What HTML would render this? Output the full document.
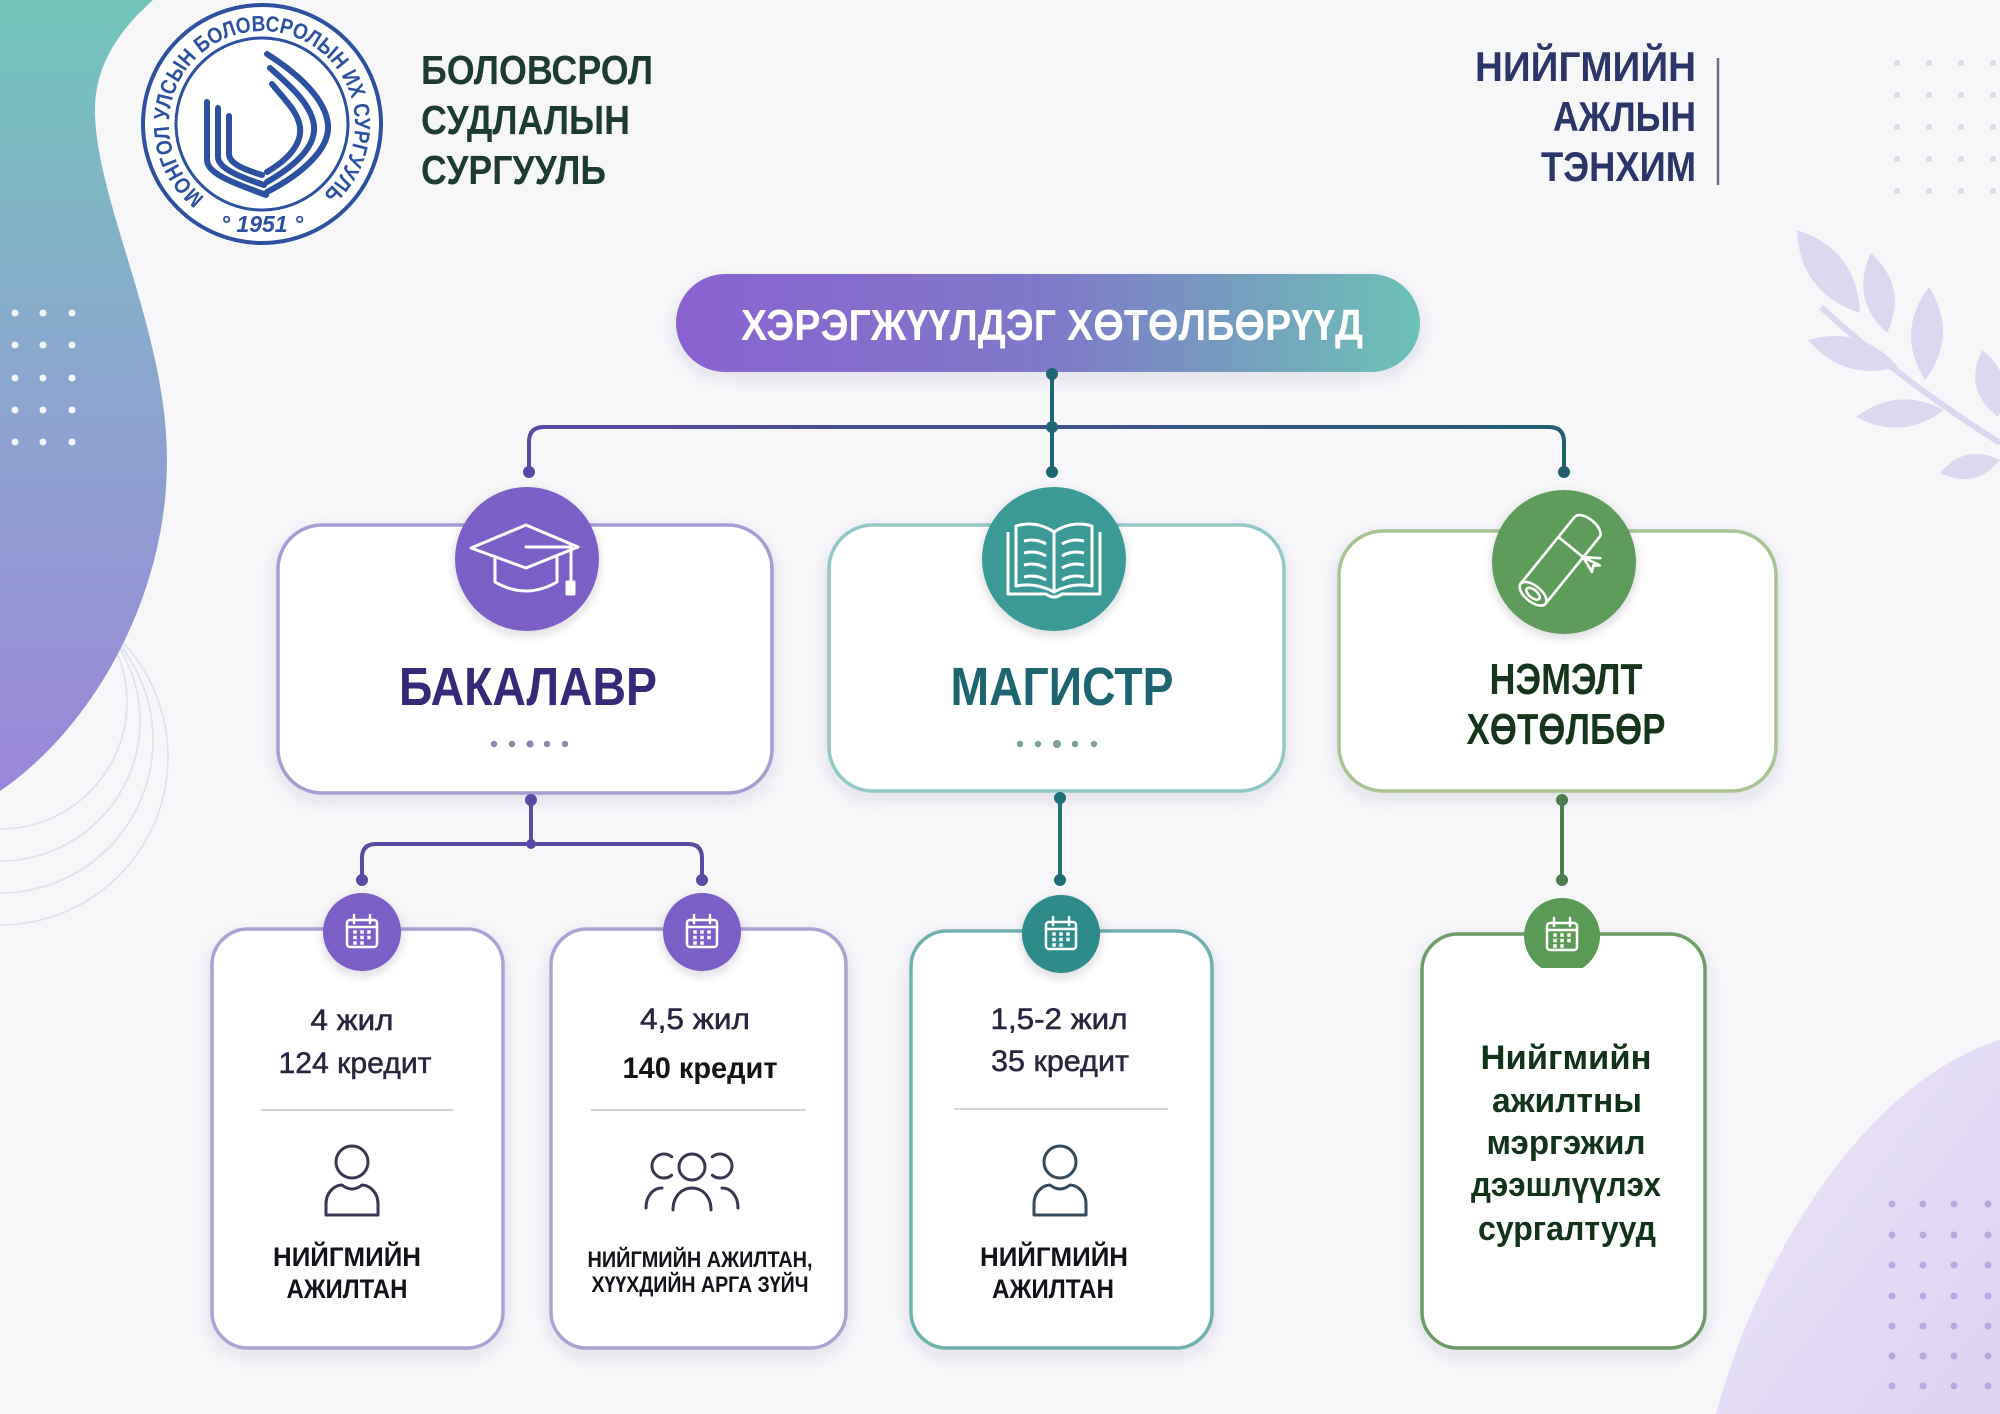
<!DOCTYPE html>
<html><head><meta charset="utf-8">
<style>
html,body{margin:0;padding:0;width:2000px;height:1414px;overflow:hidden;background:#f7f7fa}
svg{display:block}
text{font-family:"Liberation Sans","DejaVu Sans",sans-serif}
</style></head><body>
<svg width="2000" height="1414" viewBox="0 0 2000 1414" xmlns="http://www.w3.org/2000/svg">
<defs>
 <linearGradient id="blob" x1="0" y1="0" x2="0" y2="1">
  <stop offset="0" stop-color="#72c5ba"/>
  <stop offset="0.45" stop-color="#8aa8cd"/>
  <stop offset="1" stop-color="#9b86d9"/>
 </linearGradient>
 <linearGradient id="pill" x1="0" y1="0" x2="1" y2="0">
  <stop offset="0" stop-color="#8a62d0"/>
  <stop offset="0.5" stop-color="#7f79c9"/>
  <stop offset="1" stop-color="#6cc1b5"/>
 </linearGradient>
 <linearGradient id="hline" x1="529" y1="0" x2="1564" y2="0" gradientUnits="userSpaceOnUse">
  <stop offset="0" stop-color="#5b47a6"/>
  <stop offset="1" stop-color="#235f6e"/>
 </linearGradient>
 <linearGradient id="br" x1="0" y1="0" x2="1" y2="1">
  <stop offset="0" stop-color="#ece7f9"/>
  <stop offset="1" stop-color="#dcd2f2"/>
 </linearGradient>
 <filter id="sh" x="-20%" y="-20%" width="140%" height="140%">
  <feDropShadow dx="0" dy="6" stdDeviation="8" flood-color="#3a3560" flood-opacity="0.12"/>
 </filter>
 <filter id="csh" x="-30%" y="-30%" width="160%" height="160%">
  <feDropShadow dx="0" dy="4" stdDeviation="5" flood-color="#2a2540" flood-opacity="0.18"/>
 </filter>
 <path id="logoarc" d="M204.7,197.3 A93,93 0 1,1 319.3,197.3"/>
 <clipPath id="c4clip"><rect x="1500" y="880" width="130" height="88"/></clipPath>
 <g id="cal">
  <g stroke="#fff" stroke-width="2.5" fill="none" stroke-linecap="round">
   <rect x="-15" y="-12" width="30" height="27" rx="3"/>
   <line x1="-15" y1="-5" x2="15" y2="-5"/>
   <line x1="-8" y1="-17" x2="-8" y2="-9"/>
   <line x1="8" y1="-17" x2="8" y2="-9"/>
  </g>
  <g fill="#fff">
   <rect x="-8.75" y="-1.75" width="3.5" height="3.5"/><rect x="-1.75" y="-1.75" width="3.5" height="3.5"/><rect x="5.25" y="-1.75" width="3.5" height="3.5"/>
   <rect x="-8.75" y="3.75" width="3.5" height="3.5"/><rect x="-1.75" y="3.75" width="3.5" height="3.5"/><rect x="5.25" y="3.75" width="3.5" height="3.5"/>
   <rect x="-8.75" y="9.25" width="3.5" height="3.5"/><rect x="-1.75" y="9.25" width="3.5" height="3.5"/>
  </g>
 </g>
 <g id="person" fill="none" stroke-width="3" stroke-linejoin="round">
  <circle cx="0" cy="0" r="16"/>
  <path d="M-26,53 L26,53 L26,42 C26,29 16,23 10,23 Q0,31 -10,23 C-16,23 -26,29 -26,42 Z"/>
 </g>
</defs>

<rect x="0" y="0" width="2000" height="1414" fill="#f7f7fa"/>

<!-- faint arcs lower-left -->
<g fill="none" stroke="#e2e2ea" stroke-width="1.8">
 <circle cx="0" cy="702" r="127"/>
 <circle cx="0" cy="721" r="140"/>
 <circle cx="0" cy="740" r="153"/>
 <circle cx="0" cy="757" r="168"/>
</g>

<!-- left blob -->
<path d="M0,0 L153,0 C125,25 95,60 95,110 C95,200 167,330 167,460 C167,600 90,730 0,791 Z" fill="url(#blob)"/>
<g fill="#ffffff" opacity="0.9">
 <circle cx="15" cy="313" r="3.5"/><circle cx="43" cy="313" r="3.5"/><circle cx="72" cy="313" r="3.5"/>
 <circle cx="15" cy="345" r="3.5"/><circle cx="43" cy="345" r="3.5"/><circle cx="72" cy="345" r="3.5"/>
 <circle cx="15" cy="378" r="3.5"/><circle cx="43" cy="378" r="3.5"/><circle cx="72" cy="378" r="3.5"/>
 <circle cx="15" cy="410" r="3.5"/><circle cx="43" cy="410" r="3.5"/><circle cx="72" cy="410" r="3.5"/>
 <circle cx="15" cy="442" r="3.5"/><circle cx="43" cy="442" r="3.5"/><circle cx="72" cy="442" r="3.5"/>
</g>

<!-- bottom right blob -->
<path d="M1716,1414 C1760,1250 1870,1080 2000,1040 L2000,1414 Z" fill="url(#br)"/>
<g fill="#b9a8e0">
 <circle cx="1892" cy="1204" r="3.5"/><circle cx="1923" cy="1204" r="3.5"/><circle cx="1954" cy="1204" r="3.5"/><circle cx="1988" cy="1204" r="3.5"/>
 <circle cx="1892" cy="1235" r="3.5"/><circle cx="1923" cy="1235" r="3.5"/><circle cx="1954" cy="1235" r="3.5"/><circle cx="1988" cy="1235" r="3.5"/>
 <circle cx="1892" cy="1265" r="3.5"/><circle cx="1923" cy="1265" r="3.5"/><circle cx="1954" cy="1265" r="3.5"/><circle cx="1988" cy="1265" r="3.5"/>
 <circle cx="1892" cy="1296" r="3.5"/><circle cx="1923" cy="1296" r="3.5"/><circle cx="1954" cy="1296" r="3.5"/><circle cx="1988" cy="1296" r="3.5"/>
 <circle cx="1892" cy="1326" r="3.5"/><circle cx="1923" cy="1326" r="3.5"/><circle cx="1954" cy="1326" r="3.5"/><circle cx="1988" cy="1326" r="3.5"/>
 <circle cx="1892" cy="1356" r="3.5"/><circle cx="1923" cy="1356" r="3.5"/><circle cx="1954" cy="1356" r="3.5"/><circle cx="1988" cy="1356" r="3.5"/>
 <circle cx="1892" cy="1386" r="3.5"/><circle cx="1923" cy="1386" r="3.5"/><circle cx="1954" cy="1386" r="3.5"/><circle cx="1988" cy="1386" r="3.5"/>
</g>

<!-- top right dots -->
<g fill="#dcdce6">
 <circle cx="1897" cy="63" r="3"/><circle cx="1929" cy="63" r="3"/><circle cx="1961" cy="63" r="3"/><circle cx="1993" cy="63" r="3"/>
 <circle cx="1897" cy="95" r="3"/><circle cx="1929" cy="95" r="3"/><circle cx="1961" cy="95" r="3"/><circle cx="1993" cy="95" r="3"/>
 <circle cx="1897" cy="127" r="3"/><circle cx="1929" cy="127" r="3"/><circle cx="1961" cy="127" r="3"/><circle cx="1993" cy="127" r="3"/>
 <circle cx="1897" cy="159" r="3"/><circle cx="1929" cy="159" r="3"/><circle cx="1961" cy="159" r="3"/><circle cx="1993" cy="159" r="3"/>
 <circle cx="1897" cy="191" r="3"/><circle cx="1929" cy="191" r="3"/><circle cx="1961" cy="191" r="3"/><circle cx="1993" cy="191" r="3"/>
</g>

<!-- leaf branch -->
<g fill="#dcd8ef">
 <path d="M1821,307 Q1900,380 2000,443" fill="none" stroke="#dcd8ef" stroke-width="6"/>
 <path d="M1797,230 Q1799.8,293.3 1860,313 Q1857.2,249.7 1797,230 Z"/>
 <path d="M1871,253 Q1849.6,298.9 1887,333 Q1908.4,287.1 1871,253 Z"/>
 <path d="M1929,287 Q1895,332 1925,380 Q1959,335 1929,287 Z"/>
 <path d="M1808,340 Q1844.4,382.2 1898,367 Q1861.6,324.8 1808,340 Z"/>
 <path d="M1856,417 Q1902.2,441.4 1944,410 Q1897.8,385.6 1856,417 Z"/>
 <path d="M1982,350 Q1962.8,390 1998,417 Q2017,377 1982,350 Z"/>
 <path d="M1940,473 Q1975,490 2000,460 Q1965,443 1940,473 Z"/>
</g>

<!-- logo -->
<g>
 <circle cx="262" cy="124" r="119" fill="#ffffff" stroke="#2d50a0" stroke-width="4"/>
 <circle cx="262" cy="124" r="86" fill="none" stroke="#2d50a0" stroke-width="3"/>
 <text font-size="22" font-weight="bold" fill="#2d50a0"><textPath href="#logoarc" textLength="455" lengthAdjust="spacingAndGlyphs">МОНГОЛ УЛСЫН БОЛОВСРОЛЫН ИХ СУРГУУЛЬ</textPath></text>
 <text x="262" y="232" font-size="23" font-weight="bold" font-style="italic" fill="#2d50a0" text-anchor="middle">° 1951 °</text>
 <g fill="none" stroke="#2d50a0" stroke-width="6" stroke-linecap="round">
  <path d="M267,192 C300,175 330,150 328,125 C326,100 300,75 267,54"/>
  <path d="M267,182 C293,167 316,148 314,126 C312,106 293,88 270,68"/>
  <path d="M267,172 C287,160 302,145 300,127 C298,112 285,100 272,84"/>
  <path d="M207,102 L207,160 C207,175 240,185 266,195"/>
  <path d="M218,108 L218,157 C218,169 243,178 264,185"/>
  <path d="M229,116 L229,154 C229,164 246,170 262,175"/>
 </g>
</g>

<!-- left title -->
<g font-weight="bold" font-size="41" fill="#1e3b2f">
 <text x="421" y="84" textLength="232" lengthAdjust="spacingAndGlyphs">БОЛОВСРОЛ</text>
 <text x="421" y="134" textLength="209" lengthAdjust="spacingAndGlyphs">СУДЛАЛЫН</text>
 <text x="421" y="184" textLength="185" lengthAdjust="spacingAndGlyphs">СУРГУУЛЬ</text>
</g>

<!-- right title -->
<g font-weight="bold" font-size="42" fill="#2c3568" text-anchor="end">
 <text x="1696" y="81" textLength="221" lengthAdjust="spacingAndGlyphs">НИЙГМИЙН</text>
 <text x="1696" y="131" textLength="143" lengthAdjust="spacingAndGlyphs">АЖЛЫН</text>
 <text x="1696" y="181" textLength="155" lengthAdjust="spacingAndGlyphs">ТЭНХИМ</text>
</g>
<line x1="1718" y1="58" x2="1718" y2="185" stroke="#6a6e8a" stroke-width="2.5"/>

<!-- pill -->
<rect x="676" y="274" width="744" height="98" rx="49" fill="url(#pill)" filter="url(#sh)"/>
<text x="1052" y="340" text-anchor="middle" font-size="44" font-weight="bold" fill="#ffffff" textLength="622" lengthAdjust="spacingAndGlyphs">ХЭРЭГЖҮҮЛДЭГ ХӨТӨЛБӨРҮҮД</text>

<!-- top connectors -->
<path d="M529,472 L529,442 Q529,427 544,427 L1549,427 Q1564,427 1564,442 L1564,472" fill="none" stroke="url(#hline)" stroke-width="4"/>
<line x1="1052" y1="374" x2="1052" y2="472" stroke="#1f6675" stroke-width="4"/>
<circle cx="1052" cy="374" r="6" fill="#1f6675"/>
<circle cx="1052" cy="427" r="6" fill="#1f6675"/>
<circle cx="1052" cy="472" r="6" fill="#1f6675"/>
<circle cx="529" cy="472" r="6" fill="#5b47a6"/>
<circle cx="1564" cy="472" r="6" fill="#235f6e"/>

<!-- mid boxes -->
<rect x="278" y="525" width="494" height="268" rx="44" fill="#ffffff" stroke="#a99cd2" stroke-width="3.5" filter="url(#sh)"/>
<rect x="829" y="525" width="455" height="266" rx="44" fill="#ffffff" stroke="#93c9c5" stroke-width="3.5" filter="url(#sh)"/>
<rect x="1339" y="531" width="437" height="260" rx="44" fill="#ffffff" stroke="#a8c494" stroke-width="3.5" filter="url(#sh)"/>

<circle cx="527" cy="559" r="72" fill="#7c5fc6" filter="url(#csh)"/>
<circle cx="1054" cy="559" r="72" fill="#3a9996" filter="url(#csh)"/>
<circle cx="1564" cy="562" r="72" fill="#5f9c5b" filter="url(#csh)"/>

<!-- grad cap -->
<g fill="none" stroke="#ffffff" stroke-width="3" stroke-linejoin="round" stroke-linecap="round">
 <path d="M471,548 L526,525 L578,547 L526,568 Z"/>
 <path d="M495,558 L495,582 Q526,600 557,582 L557,558"/>
 <path d="M526,547 L571,547 L571,584"/>
 <rect x="567" y="582" width="7" height="12" fill="#ffffff"/>
</g>

<!-- book -->
<g fill="none" stroke="#ffffff" stroke-width="3" stroke-linejoin="round">
 <path d="M1008,532 L1008,594 L1046,594 Q1054,600 1062,594 L1100,594 L1100,532"/>
 <path d="M1016,526 Q1036,520 1054,532 L1054,592 Q1036,582 1016,586 Z"/>
 <path d="M1092,526 Q1072,520 1054,532 L1054,592 Q1072,582 1092,586 Z"/>
 <path d="M1024,541 Q1036,538 1046,544 M1024,553 Q1036,550 1046,556 M1024,565 Q1036,562 1046,568 M1024,577 Q1036,574 1046,580"/>
 <path d="M1084,541 Q1072,538 1062,544 M1084,553 Q1072,550 1062,556 M1084,565 Q1072,562 1062,568 M1084,577 Q1072,574 1062,580"/>
</g>

<!-- scroll -->
<g transform="translate(1562,558) rotate(-51)" fill="none" stroke="#ffffff" stroke-width="2.6" stroke-linejoin="round" stroke-linecap="round">
 <path d="M-46,-16 L40,-16 A8,16 0 0 1 40,16 L-46,16"/>
 <ellipse cx="-46" cy="0" rx="8" ry="16"/>
 <ellipse cx="-46" cy="0" rx="4" ry="8"/>
 <path d="M14,-16 L14,16 M14,16 L8,32 L14,29 L18,34 Z M14,16 L24,30"/>
</g>

<!-- mid titles -->
<text x="528" y="705" text-anchor="middle" font-size="54" font-weight="bold" fill="#362a78" textLength="258" lengthAdjust="spacingAndGlyphs">БАКАЛАВР</text>
<text x="1062" y="705" text-anchor="middle" font-size="54" font-weight="bold" fill="#1d6670" textLength="223" lengthAdjust="spacingAndGlyphs">МАГИСТР</text>
<text x="1566" y="694" text-anchor="middle" font-size="44" font-weight="bold" fill="#17351c" textLength="153" lengthAdjust="spacingAndGlyphs">НЭМЭЛТ</text>
<text x="1566" y="744" text-anchor="middle" font-size="44" font-weight="bold" fill="#17351c" textLength="199" lengthAdjust="spacingAndGlyphs">ХӨТӨЛБӨР</text>

<g fill="#8d88a8">
 <circle cx="494" cy="744" r="3.2"/><circle cx="512" cy="744" r="3.2"/><circle cx="530" cy="744" r="3.6"/><circle cx="547" cy="744" r="3.2"/><circle cx="565" cy="744" r="3.2"/>
</g>
<g fill="#7f9ea3">
 <circle cx="1020" cy="744" r="3.2"/><circle cx="1038" cy="744" r="3.2"/><circle cx="1057" cy="744" r="4"/><circle cx="1075" cy="744" r="3.2"/><circle cx="1094" cy="744" r="3.2"/>
</g>

<!-- lower connectors -->
<g fill="none" stroke="#5b4aa3" stroke-width="4">
 <line x1="531" y1="800" x2="531" y2="844"/>
 <path d="M362,880 L362,858 Q362,844 376,844 L688,844 Q702,844 702,858 L702,880"/>
</g>
<g fill="#5b4aa3">
 <circle cx="531" cy="800" r="6"/><circle cx="531" cy="844" r="5"/><circle cx="362" cy="880" r="6"/><circle cx="702" cy="880" r="6"/>
</g>
<line x1="1060" y1="798" x2="1060" y2="880" stroke="#1f6f78" stroke-width="4"/>
<circle cx="1060" cy="798" r="6" fill="#1f6f78"/><circle cx="1060" cy="880" r="6" fill="#1f6f78"/>
<line x1="1562" y1="800" x2="1562" y2="880" stroke="#4f7d50" stroke-width="4"/>
<circle cx="1562" cy="800" r="6" fill="#4f7d50"/><circle cx="1562" cy="880" r="6" fill="#4f7d50"/>

<!-- bottom boxes -->
<rect x="212" y="929" width="291" height="419" rx="36" fill="#ffffff" stroke="#aca2d3" stroke-width="3.5" filter="url(#sh)"/>
<rect x="551" y="929" width="295" height="419" rx="36" fill="#ffffff" stroke="#aca2d3" stroke-width="3.5" filter="url(#sh)"/>
<rect x="911" y="931" width="301" height="417" rx="36" fill="#ffffff" stroke="#6fb0ad" stroke-width="3.5" filter="url(#sh)"/>
<rect x="1422" y="934" width="283" height="414" rx="36" fill="#ffffff" stroke="#6e9c66" stroke-width="3.5" filter="url(#sh)"/>

<circle cx="362" cy="932" r="39" fill="#7c5fc6" filter="url(#csh)"/>
<circle cx="702" cy="932" r="39" fill="#7c5fc6" filter="url(#csh)"/>
<circle cx="1061" cy="934" r="39" fill="#2e8b89" filter="url(#csh)"/>
<circle cx="1562" cy="936" r="38" fill="#5a9a56" clip-path="url(#c4clip)"/>
<use href="#cal" x="362" y="932"/>
<use href="#cal" x="702" y="932"/>
<use href="#cal" x="1061" y="934"/>
<use href="#cal" x="1562" y="935"/>

<!-- box texts -->
<g font-size="30" fill="#29253f" stroke="#29253f" stroke-width="0.5" text-anchor="middle">
 <text x="352" y="1030" textLength="83" lengthAdjust="spacingAndGlyphs">4 жил</text>
 <text x="355" y="1073" textLength="153" lengthAdjust="spacingAndGlyphs">124 кредит</text>
 <text x="695" y="1029" textLength="110" lengthAdjust="spacingAndGlyphs">4,5 жил</text>
 <text x="1059" y="1029" textLength="137" lengthAdjust="spacingAndGlyphs">1,5-2 жил</text>
 <text x="1060" y="1071" textLength="138" lengthAdjust="spacingAndGlyphs">35 кредит</text>
</g>
<text x="700" y="1078" text-anchor="middle" font-size="30" font-weight="bold" fill="#141414" textLength="155" lengthAdjust="spacingAndGlyphs">140 кредит</text>

<g stroke="#d3d2dc" stroke-width="2">
 <line x1="261" y1="1110" x2="453" y2="1110"/>
 <line x1="591" y1="1110" x2="806" y2="1110"/>
 <line x1="954" y1="1109" x2="1168" y2="1109"/>
</g>

<use href="#person" x="352" y="1162" stroke="#3b3750"/>
<use href="#person" x="1060" y="1162" stroke="#34495a"/>
<g fill="none" stroke="#3b3750" stroke-width="3" stroke-linecap="round">
 <circle cx="692" cy="1167" r="13"/>
 <path d="M671.7,1156.8 A12,12 0 1,0 671.7,1175.2"/>
 <path d="M712.3,1156.8 A12,12 0 1,1 712.3,1175.2"/>
 <path d="M673,1210 C673,1196 682,1188 692,1188 C702,1188 711,1196 711,1210"/>
 <path d="M646,1208 C646,1196 653,1188 662,1188"/>
 <path d="M738,1208 C738,1196 731,1188 722,1188"/>
</g>

<g font-weight="bold" fill="#121218" text-anchor="middle">
 <text x="347" y="1266" font-size="27" textLength="148" lengthAdjust="spacingAndGlyphs">НИЙГМИЙН</text>
 <text x="347" y="1298" font-size="27" textLength="121" lengthAdjust="spacingAndGlyphs">АЖИЛТАН</text>
 <text x="700" y="1267" font-size="22" textLength="225" lengthAdjust="spacingAndGlyphs">НИЙГМИЙН АЖИЛТАН,</text>
 <text x="700" y="1292" font-size="22" textLength="217" lengthAdjust="spacingAndGlyphs">ХҮҮХДИЙН АРГА ЗҮЙЧ</text>
 <text x="1054" y="1266" font-size="27" textLength="148" lengthAdjust="spacingAndGlyphs">НИЙГМИЙН</text>
 <text x="1053" y="1298" font-size="27" textLength="122" lengthAdjust="spacingAndGlyphs">АЖИЛТАН</text>
</g>

<g font-weight="bold" font-size="34" fill="#13321a" text-anchor="middle">
 <text x="1566" y="1069" textLength="171" lengthAdjust="spacingAndGlyphs">Нийгмийн</text>
 <text x="1567" y="1112" textLength="150" lengthAdjust="spacingAndGlyphs">ажилтны</text>
 <text x="1566" y="1154" textLength="159" lengthAdjust="spacingAndGlyphs">мэргэжил</text>
 <text x="1566" y="1196" textLength="190" lengthAdjust="spacingAndGlyphs">дээшлүүлэх</text>
 <text x="1567" y="1240" textLength="178" lengthAdjust="spacingAndGlyphs">сургалтууд</text>
</g>
</svg>
</body></html>
